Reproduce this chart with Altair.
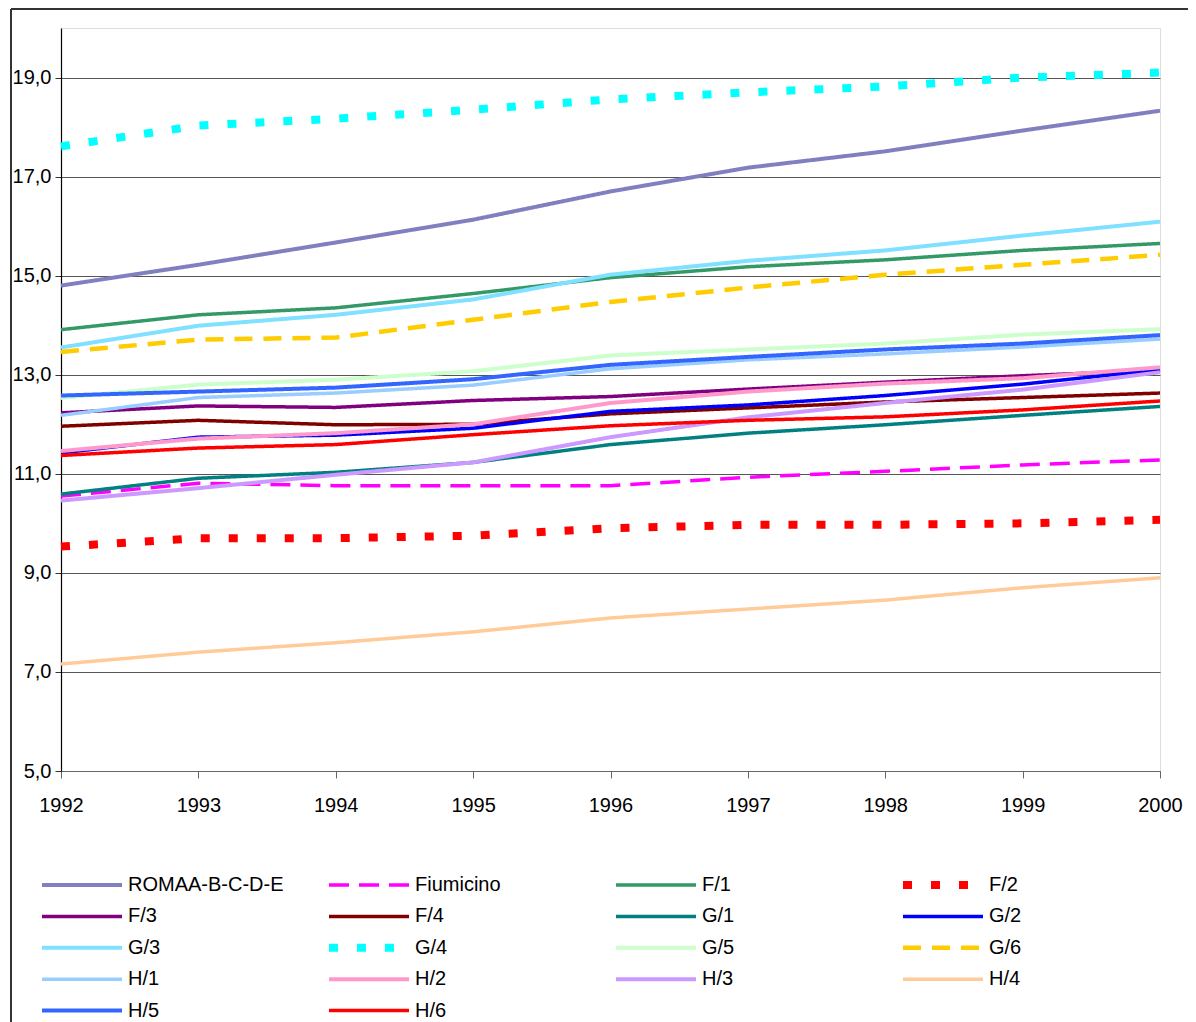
import altair as alt
import pandas as pd

years = [1992, 1993, 1994, 1995, 1996, 1997, 1998, 1999, 2000]

series_names = ["ROMAA-B-C-D-E", "Fiumicino", "F/1", "F/2", "F/3", "F/4", "G/1", "G/2",
                "G/3", "G/4", "G/5", "G/6", "H/1", "H/2", "H/3", "H/4", "H/5", "H/6"]

roma = [14.80, 15.22, 15.67, 16.13, 16.70, 17.18, 17.51, 17.93, 18.33]
fiumicino = [10.55, 10.81, 10.76, 10.76, 10.76, 10.93, 11.05, 11.18, 11.28]
f1 = [13.91, 14.21, 14.35, 14.64, 14.96, 15.18, 15.32, 15.51, 15.65]
f2 = [9.53, 9.70, 9.70, 9.75, 9.90, 9.97, 9.97, 10.00, 10.07]
f3 = [12.23, 12.37, 12.34, 12.48, 12.56, 12.71, 12.85, 12.98, 13.09]
f4 = [11.96, 12.08, 11.99, 12.00, 12.21, 12.33, 12.45, 12.54, 12.63]
g1 = [10.59, 10.91, 11.03, 11.23, 11.59, 11.82, 11.99, 12.18, 12.36]
g2 = [11.42, 11.74, 11.78, 11.92, 12.26, 12.39, 12.58, 12.81, 13.10]
g3 = [13.55, 13.99, 14.21, 14.52, 15.02, 15.30, 15.51, 15.81, 16.09]
g4 = [17.61, 18.03, 18.17, 18.35, 18.56, 18.70, 18.82, 19.00, 19.10]
g5 = [12.53, 12.80, 12.90, 13.07, 13.39, 13.51, 13.63, 13.81, 13.92]
g6 = [13.46, 13.71, 13.75, 14.11, 14.47, 14.76, 15.02, 15.22, 15.42]
h1 = [12.18, 12.54, 12.63, 12.79, 13.12, 13.30, 13.42, 13.56, 13.72]
h2 = [11.46, 11.71, 11.82, 12.00, 12.43, 12.66, 12.82, 12.93, 13.15]
h3 = [10.46, 10.71, 10.98, 11.23, 11.74, 12.14, 12.43, 12.70, 13.05]
h4 = [7.16, 7.40, 7.59, 7.81, 8.09, 8.27, 8.45, 8.70, 8.90]
h5 = [12.58, 12.66, 12.74, 12.91, 13.20, 13.36, 13.51, 13.63, 13.80]
h6 = [11.37, 11.52, 11.59, 11.79, 11.97, 12.08, 12.15, 12.29, 12.47]

all_values = [roma, fiumicino, f1, f2, f3, f4, g1, g2, g3, g4, g5, g6,
              h1, h2, h3, h4, h5, h6]

colors = ["#8080C0", "#FF00FF", "#339966", "#FF0000", "#800080", "#800000",
          "#008080", "#0000FF", "#80E0FF", "#00FFFF", "#CCFFCC", "#FFCC00",
          "#99CCFF", "#FF99CC", "#CC99FF", "#FFCC99", "#3366FF", "#FF0000"]

solid = [1, 0]
dashes = [solid, [20, 10], solid, [9, 19], solid, solid, solid, solid,
          solid, [9, 19], solid, [18, 11], solid, solid, solid, solid, solid, solid]
widths = [4, 3.5, 3.5, 8, 3.5, 3.5, 3.5, 3.5, 4, 8, 4, 4.5, 3.5, 4, 4, 3.5, 4, 3.5]

y_ticks = [5, 7, 9, 11, 13, 15, 17, 19]

rows = []
for name, vals in zip(series_names, all_values):
    for yr, v in zip(years, vals):
        rows.append({"anno": yr, "serie": name, "valore": v})
df = pd.DataFrame(rows)

# legend table: entries laid out row by row in 4 columns
legend_df = pd.DataFrame({
    "serie": series_names,
    "col": [i % 4 for i in range(len(series_names))],
    "riga": [i // 4 for i in range(len(series_names))],
})

FONT = "Liberation Sans"

color_scale = alt.Scale(domain=series_names, range=colors)
dash_scale = alt.Scale(type="ordinal", domain=series_names, range=dashes)
width_scale = alt.Scale(type="ordinal", domain=series_names, range=widths)

lines = alt.Chart(df).mark_line(clip=False).encode(
    x=alt.X("anno:Q", scale=alt.Scale(domain=[1992, 2000], nice=False, zero=False),
            axis=alt.Axis(values=years, format="d", title=None, grid=False,
                          tickSize=7, tickColor="#666666", domainColor="#666666",
                          labelFontSize=20, labelFont=FONT, labelColor="#000000",
                          labelPadding=17, labelFlush=False)),
    y=alt.Y("valore:Q", scale=alt.Scale(domain=[5, 20], nice=False, zero=False),
            axis=alt.Axis(values=y_ticks, title=None, grid=True, gridColor="#555555",
                          gridWidth=1.2, tickSize=6, tickColor="#333333",
                          domainColor="#000000", domainWidth=1.2,
                          labelExpr="replace(format(datum.value, '.1f'), '.', ',')",
                          labelFontSize=20, labelFont=FONT, labelColor="#000000",
                          labelPadding=4)),
    color=alt.Color("serie:N", scale=color_scale, legend=None),
    strokeDash=alt.StrokeDash("serie:N", scale=dash_scale, legend=None),
    strokeWidth=alt.StrokeWidth("serie:N", scale=width_scale, legend=None),
)

leg_base = alt.Chart(legend_df).transform_calculate(
    lx0="-19 + datum.col * 287",
    lx1="-19 + datum.col * 287 + 80",
    tx="-19 + datum.col * 287 + 86",
    ly="857 + datum.riga * 31.4",
)

leg_sym = leg_base.mark_rule(clip=False).encode(
    x=alt.X("lx0:Q", scale=None, axis=None),
    x2="lx1:Q",
    y=alt.Y("ly:Q", scale=None, axis=None),
    color=alt.Color("serie:N", scale=color_scale, legend=None),
    strokeDash=alt.StrokeDash("serie:N", scale=dash_scale, legend=None),
    strokeWidth=alt.StrokeWidth("serie:N", scale=width_scale, legend=None),
)

leg_txt = leg_base.mark_text(align="left", baseline="middle", font=FONT,
                             fontSize=20, color="#000000", clip=False).encode(
    x=alt.X("tx:Q", scale=None, axis=None),
    y=alt.Y("ly:Q", scale=None, axis=None),
    text="serie:N",
)

frame_df = pd.DataFrame({"k": [0]})
frame_left = alt.Chart(frame_df).mark_rule(color="#333333", strokeWidth=2, clip=False).encode(
    x=alt.value(-50), y=alt.value(-19), y2=alt.value(1010))
frame_top = alt.Chart(frame_df).mark_rule(color="#333333", strokeWidth=2, clip=False).encode(
    x=alt.value(-50), x2=alt.value(1200), y=alt.value(-19))

chart = alt.layer(frame_left, frame_top, lines, leg_sym, leg_txt).resolve_scale(
    x="independent", y="independent"
).properties(
    width=1099, height=743,
    autosize=alt.AutoSizeParams(type="none"),
    padding={"left": 53, "top": 20, "right": 28, "bottom": 251},
).configure_view(stroke=None).configure(background="white")

chart.save("out.html", embed_options={"renderer": "svg", "actions": False})
